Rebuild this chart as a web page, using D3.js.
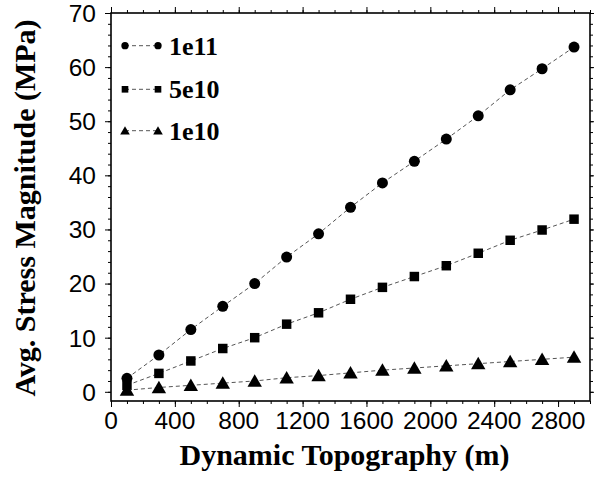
<!DOCTYPE html>
<html>
<head>
<meta charset="utf-8">
<script src="https://cdn.jsdelivr.net/npm/d3@7"></script>
<style>
  body { margin: 0; background: #fff; }
  .tick-label { font-family: "Liberation Sans", Arial, sans-serif; font-size: 24.5px; fill: #000; }
  .title { font-family: "Liberation Serif", "Times New Roman", serif; font-weight: bold; font-size: 30px; fill: #000; }
  .legend-text { font-family: "Liberation Serif", "Times New Roman", serif; font-weight: bold; font-size: 26px; fill: #000; }
</style>
</head>
<body>
<svg id="chart" width="594" height="478"></svg>
<script>
// data
var topo = [100, 300, 500, 700, 900, 1100, 1300, 1500, 1700, 1900, 2100, 2300, 2500, 2700, 2900];
var stress1e11 = [2.5, 6.8, 11.5, 15.8, 20.0, 24.9, 29.2, 34.1, 38.6, 42.6, 46.7, 51.0, 55.8, 59.7, 63.7];
var stress5e10 = [1.2, 3.4, 5.7, 8.0, 10.0, 12.5, 14.6, 17.1, 19.3, 21.3, 23.3, 25.6, 28.0, 29.9, 31.9];
var stress1e10 = [0.3, 0.8, 1.2, 1.6, 2.0, 2.6, 3.0, 3.5, 4.0, 4.4, 4.8, 5.2, 5.6, 6.0, 6.4];
var seriesNames = ["1e11", "5e10", "1e10"];
var xTicks = [0, 400, 800, 1200, 1600, 2000, 2400, 2800];
var yTicks = [0, 10, 20, 30, 40, 50, 60, 70];

var svg = d3.select("#chart");
var plotL = 111, plotR = 590, plotT = 13, plotB = 401;

var x = d3.scaleLinear().domain([0, 3000]).range([plotL, plotR]);
var y = d3.scaleLinear().domain([-1.7, 70]).range([plotB, plotT]);

var series = [
  { name: seriesNames[0], values: stress1e11, shape: d3.symbolCircle, size: 95, legSize: 42 },
  { name: seriesNames[1], values: stress5e10, shape: d3.symbolSquare, size: 90, legSize: 44 },
  { name: seriesNames[2], values: stress1e10, shape: d3.symbolTriangle, size: 90, legSize: 40 }
];

// lines + markers
var line = d3.line().x(function (d) { return x(d[0]); }).y(function (d) { return y(d[1]); });
series.forEach(function (s) {
  var pts = topo.map(function (t, i) { return [t, s.values[i]]; });
  svg.append("path")
    .attr("d", line(pts))
    .attr("fill", "none")
    .attr("stroke", "#555")
    .attr("stroke-width", 1)
    .attr("stroke-dasharray", "4,3");
  var yOff = s.shape === d3.symbolTriangle ? 1.5 : 0;
  svg.selectAll(null).data(pts).enter().append("path")
    .attr("d", d3.symbol().type(s.shape).size(s.size))
    .attr("transform", function (d) { return "translate(" + x(d[0]) + "," + (y(d[1]) + yOff) + ")"; })
    .attr("fill", "#000");
});

// frame + ticks (GMT style: ticks outward on all sides)
var axisG = svg.append("g");
function ticks(axis, values, len) {
  return axis.tickValues(values).tickSize(len).tickFormat("");
}
var xMinor = d3.range(0, 3001, 100);
var yMinor = d3.range(0, 71, 2);
axisG.append("g").attr("transform", "translate(0," + plotB + ")").call(ticks(d3.axisBottom(x), xMinor, 3));
axisG.append("g").attr("transform", "translate(0," + plotB + ")").call(ticks(d3.axisBottom(x), xTicks, 6));
axisG.append("g").attr("transform", "translate(0," + plotT + ")").call(ticks(d3.axisTop(x), xMinor, 3));
axisG.append("g").attr("transform", "translate(0," + plotT + ")").call(ticks(d3.axisTop(x), xTicks, 6));
axisG.append("g").attr("transform", "translate(" + plotL + ",0)").call(ticks(d3.axisLeft(y), yMinor, 3));
axisG.append("g").attr("transform", "translate(" + plotL + ",0)").call(ticks(d3.axisLeft(y), yTicks, 6));
axisG.append("g").attr("transform", "translate(" + plotR + ",0)").call(ticks(d3.axisRight(y), yMinor, 3));
axisG.append("g").attr("transform", "translate(" + plotR + ",0)").call(ticks(d3.axisRight(y), yTicks, 6));
axisG.selectAll(".domain").remove();
axisG.selectAll("line").attr("stroke", "#000").attr("stroke-width", 1);

svg.append("rect")
  .attr("x", plotL).attr("y", plotT)
  .attr("width", plotR - plotL).attr("height", plotB - plotT)
  .attr("fill", "none").attr("stroke", "#000").attr("stroke-width", 1.6);

// tick labels
svg.selectAll(null).data(xTicks).enter().append("text")
  .attr("class", "tick-label")
  .attr("x", function (d) { return x(d); })
  .attr("y", 429)
  .attr("text-anchor", "middle")
  .text(function (d) { return d; });
svg.selectAll(null).data(yTicks).enter().append("text")
  .attr("class", "tick-label")
  .attr("x", plotL - 15)
  .attr("y", function (d) { return y(d); })
  .attr("dy", "0.36em")
  .attr("text-anchor", "end")
  .text(function (d) { return d; });

// axis titles
svg.append("text").attr("class", "title")
  .attr("x", (plotL + plotR) / 2 - 6).attr("y", 465)
  .attr("text-anchor", "middle")
  .text("Dynamic Topography (m)");
svg.append("text").attr("class", "title")
  .attr("transform", "translate(35,208) rotate(-90)")
  .attr("text-anchor", "middle")
  .text("Avg. Stress Magnitude (MPa)");

// legend
var legRows = [45.7, 89.3, 130.7];
series.forEach(function (s, i) {
  var g = svg.append("g").attr("transform", "translate(0," + legRows[i] + ")");
  g.append("line").attr("x1", 125).attr("x2", 158).attr("y1", 0).attr("y2", 0)
    .attr("stroke", "#555").attr("stroke-width", 1).attr("stroke-dasharray", "4,3");
  [125, 158].forEach(function (mx) {
    g.append("path").attr("d", d3.symbol().type(s.shape).size(s.legSize))
      .attr("transform", "translate(" + mx + "," + (s.shape === d3.symbolTriangle ? 1 : 0) + ")")
      .attr("fill", "#000");
  });
  g.append("text").attr("class", "legend-text")
    .attr("x", 169).attr("y", 0).attr("dy", "0.35em")
    .text(s.name);
});
</script>
</body>
</html>
